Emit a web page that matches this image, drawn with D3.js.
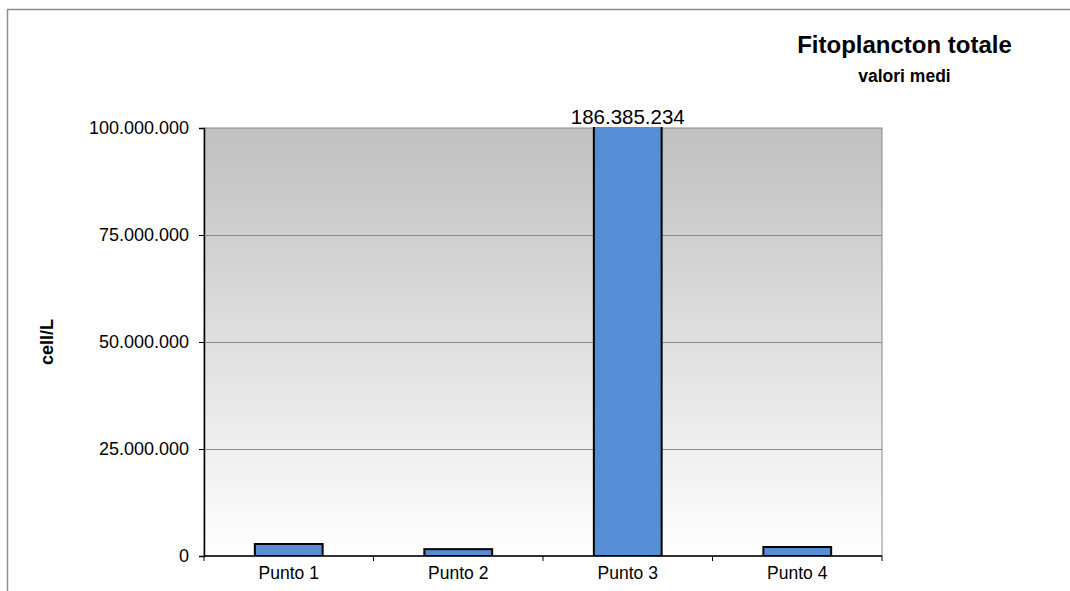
<!DOCTYPE html>
<html>
<head>
<meta charset="utf-8">
<script src="https://cdn.jsdelivr.net/npm/d3@7"></script>
<style>
  html, body { margin: 0; padding: 0; background: #fff; }
  svg { display: block; font-family: "Liberation Sans", Arial, sans-serif; }
</style>
</head>
<body>
<svg id="chart" width="1070" height="591"></svg>
<script>
// Average total phytoplankton per sampling point (cells per litre)
const categories = ["Punto 1", "Punto 2", "Punto 3", "Punto 4"];
const values = [2800000, 1600000, 186385234, 2100000];
const yTicks = [0, 25000000, 50000000, 75000000, 100000000];
const yMax = 100000000;

const rows = categories.map((c, i) => ({ cat: c, value: values[i] }));

const svg = d3.select("#chart");
const plot = { left: 204, top: 128, right: 882, bottom: 556 };

// Italian-style thousands separator
const fmt = d3.formatLocale({ decimal: ",", thousands: ".", grouping: [3], currency: ["€", ""] }).format(",d");

const x = d3.scaleBand().domain(categories).range([plot.left, plot.right]).paddingInner(0.6).paddingOuter(0.3);
const y = d3.scaleLinear().domain([0, yMax]).range([plot.bottom, plot.top]);

// Outer chart frame (top and left edges visible)
svg.append("path")
  .attr("d", `M7.5,591 V9.5 H1070`)
  .attr("fill", "none").attr("stroke", "#8c8c8c").attr("stroke-width", 1.5);

// Plot area gradient: grey at top fading to white
const defs = svg.append("defs");
const grad = defs.append("linearGradient").attr("id", "bg").attr("x1", 0).attr("y1", 0).attr("x2", 0).attr("y2", 1);
grad.append("stop").attr("offset", "0%").attr("stop-color", "#c0c0c0");
grad.append("stop").attr("offset", "100%").attr("stop-color", "#ffffff");

svg.append("rect")
  .attr("x", plot.left).attr("y", plot.top)
  .attr("width", plot.right - plot.left).attr("height", plot.bottom - plot.top)
  .attr("fill", "url(#bg)").attr("stroke", "#888").attr("stroke-width", 1);

// Horizontal gridlines
svg.append("g").selectAll("line").data(yTicks.filter(d => d > 0 && d < yMax)).join("line")
  .attr("x1", plot.left).attr("x2", plot.right)
  .attr("y1", d => Math.round(y(d)) + 0.5).attr("y2", d => Math.round(y(d)) + 0.5)
  .attr("stroke", "#8c8c8c").attr("stroke-width", 1);

// Bars, clipped at the top of the value axis
defs.append("clipPath").attr("id", "plotClip").append("rect")
  .attr("x", plot.left).attr("y", plot.top - 1)
  .attr("width", plot.right - plot.left).attr("height", plot.bottom - plot.top + 1);

svg.append("g").attr("clip-path", "url(#plotClip)")
  .selectAll("rect").data(rows).join("rect")
  .attr("x", d => x(d.cat))
  .attr("y", d => y(Math.min(d.value, yMax * 1.01)))
  .attr("width", x.bandwidth())
  .attr("height", d => plot.bottom - y(Math.min(d.value, yMax * 1.01)))
  .attr("fill", "#558ed5").attr("stroke", "#000").attr("stroke-width", 2);

// Y axis
const yAxis = svg.append("g").attr("transform", `translate(${plot.left},0)`)
  .call(d3.axisLeft(y).tickValues(yTicks).tickFormat(fmt).tickSize(5).tickPadding(10));
yAxis.select(".domain").attr("stroke", "#000").attr("stroke-width", 1.5);
yAxis.selectAll(".tick line").attr("stroke", "#000");
yAxis.selectAll("text").attr("font-size", 18).attr("fill", "#000")
  .attr("font-family", "'Liberation Sans', Arial, sans-serif");

// X axis with ticks at category boundaries
const xAxis = svg.append("g").attr("transform", `translate(0,${plot.bottom})`);
xAxis.append("line").attr("x1", plot.left).attr("x2", plot.right).attr("stroke", "#000").attr("stroke-width", 1.5);
const step = (plot.right - plot.left) / categories.length;
xAxis.selectAll(".bt").data(d3.range(categories.length + 1)).join("line")
  .attr("x1", i => plot.left + i * step).attr("x2", i => plot.left + i * step)
  .attr("y1", 0).attr("y2", 5).attr("stroke", "#000");
xAxis.selectAll("text").data(categories).join("text")
  .attr("x", d => x(d) + x.bandwidth() / 2).attr("y", 23)
  .attr("text-anchor", "middle").attr("font-size", 17.5).attr("fill", "#000")
  .text(d => d);

// Value label for the bar that runs past the axis maximum
svg.append("g").selectAll("text").data(rows.filter(d => d.value > yMax)).join("text")
  .attr("x", d => x(d.cat) + x.bandwidth() / 2)
  .attr("y", plot.top - 4)
  .attr("text-anchor", "middle").attr("font-size", 20.5).attr("fill", "#000")
  .text(d => fmt(d.value));

// Axis title
svg.append("text")
  .attr("transform", `translate(53,${(plot.top + plot.bottom) / 2}) rotate(-90)`)
  .attr("text-anchor", "middle").attr("font-size", 18).attr("font-weight", "bold")
  .text("cell/L");

// Chart titles
svg.append("text").attr("x", 904.5).attr("y", 53).attr("text-anchor", "middle")
  .attr("font-size", 24).attr("font-weight", "bold").text("Fitoplancton totale");
svg.append("text").attr("x", 904.5).attr("y", 82).attr("text-anchor", "middle")
  .attr("font-size", 17.5).attr("font-weight", "bold").text("valori medi");
</script>
</body>
</html>
